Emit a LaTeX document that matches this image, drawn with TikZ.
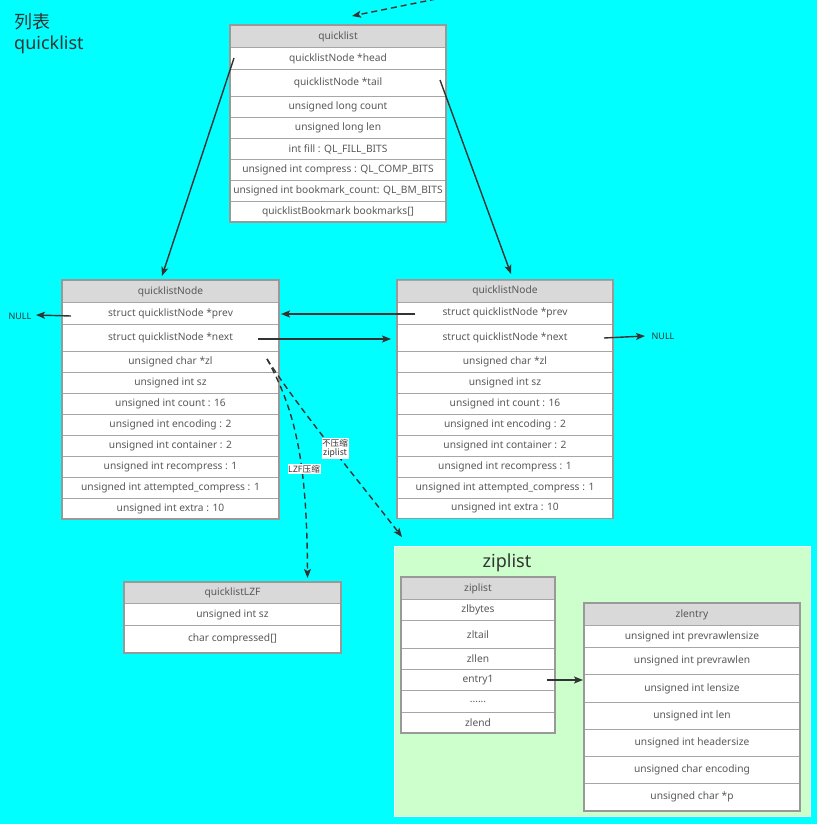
\documentclass[tikz,border=0pt]{standalone}
\usepackage{fontspec}
\setmainfont{Noto Sans}
\newfontfamily\cjk{Noto Sans CJK SC}
\usetikzlibrary{arrows.meta}
\definecolor{bgc}{HTML}{00FFFF}
\definecolor{hdrc}{HTML}{D9D9D9}
\definecolor{rowline}{HTML}{A6A6A6}
\definecolor{boxline}{HTML}{999999}
\definecolor{txtc}{HTML}{595959}
\definecolor{arrc}{HTML}{333333}
\definecolor{zipbg}{HTML}{CCFFCC}
\newcommand{\fld}[6]{\node[fld,minimum width=#4,minimum height=#5,anchor=north west] (#1) at (#2,#3) {#6};}
\newcommand{\hdr}[6]{\node[fld,fill=hdrc,minimum width=#4,minimum height=#5,anchor=north west] (#1) at (#2,#3) {#6};}
\tikzset{
  fld/.style={draw=rowline,line width=1pt,fill=white,inner sep=0pt,text=txtc,font=\fontsize{10.2}{12}\selectfont},
  outer/.style={draw=boxline,line width=1.6pt},
  arr/.style={draw=arrc,line width=1.4pt,-{Stealth[length=9pt,width=7pt,inset=2pt]}},
  darr/.style={draw=arrc,line width=1.4pt,dash pattern=on 6pt off 4pt,-{Stealth[length=9pt,width=7pt,inset=2pt]}},
  lbl/.style={fill=white,inner sep=0.6pt,text=arrc,font=\cjk\fontsize{8.6}{9.6}\selectfont,align=center},
  title/.style={text=arrc,font=\fontsize{18}{20}\selectfont,inner sep=0pt},
  nulltxt/.style={text=arrc,font=\fontsize{9}{10}\selectfont,inner sep=0pt}
}
\begin{document}
\begin{tikzpicture}[x=1pt,y=-1pt]
\path[fill=bgc] (0,0) rectangle (817,824);
\useasboundingbox (0,0) rectangle (817,824);

% title
\node[title,anchor=base west] (t1) at (14,29) {\cjk 列表};
\node[title,anchor=base west] (t2) at (14,50) {quicklist};

% quicklist
\hdr{q0}{230}{25}{215}{22}{quicklist}
\fld{q1}{230}{47}{215}{22}{quicklistNode *head}
\fld{q2}{230}{69}{215}{27}{quicklistNode *tail}
\fld{q3}{230}{96}{215}{21}{unsigned long count}
\fld{q4}{230}{117}{215}{21}{unsigned long len}
\fld{q5}{230}{138}{215}{21}{int fill : QL\_FILL\_BITS}
\fld{q6}{230}{159}{215}{21}{unsigned int compress : QL\_COMP\_BITS}
\fld{q7}{230}{180}{215}{21}{unsigned int bookmark\_count: QL\_BM\_BITS}
\fld{q8}{230}{201}{215}{20}{quicklistBookmark bookmarks[]}
\draw[outer] (q0.north west) rectangle (q8.south east);

% left quicklistNode
\hdr{a0}{62}{280}{216}{22}{quicklistNode}
\fld{a1}{62}{302}{216}{22}{struct quicklistNode *prev}
\fld{a2}{62}{324}{216}{27}{struct quicklistNode *next}
\fld{a3}{62}{351}{216}{21}{unsigned char *zl}
\fld{a4}{62}{372}{216}{21}{unsigned int sz}
\fld{a5}{62}{393}{216}{21}{unsigned int count : 16}
\fld{a6}{62}{414}{216}{21}{unsigned int encoding : 2}
\fld{a7}{62}{435}{216}{21}{unsigned int container : 2}
\fld{a8}{62}{456}{216}{21}{unsigned int recompress : 1}
\fld{a9}{62}{477}{216}{21}{unsigned int attempted\_compress : 1}
\fld{a10}{62}{498}{216}{20}{unsigned int extra : 10}
\draw[outer] (a0.north west) rectangle (a10.south east);

% right quicklistNode
\hdr{b0}{397}{279.5}{215}{22}{quicklistNode}
\fld{b1}{397}{301.5}{215}{22}{struct quicklistNode *prev}
\fld{b2}{397}{323.5}{215}{27}{struct quicklistNode *next}
\fld{b3}{397}{350.5}{215}{21}{unsigned char *zl}
\fld{b4}{397}{371.5}{215}{21}{unsigned int sz}
\fld{b5}{397}{392.5}{215}{21}{unsigned int count : 16}
\fld{b6}{397}{413.5}{215}{21}{unsigned int encoding : 2}
\fld{b7}{397}{434.5}{215}{21}{unsigned int container : 2}
\fld{b8}{397}{455.5}{215}{21}{unsigned int recompress : 1}
\fld{b9}{397}{476.5}{215}{21}{unsigned int attempted\_compress : 1}
\fld{b10}{397}{497.5}{215}{20}{unsigned int extra : 10}
\draw[outer] (b0.north west) rectangle (b10.south east);

% quicklistLZF
\hdr{l0}{124}{582}{216}{21}{quicklistLZF}
\fld{l1}{124}{603}{216}{22}{unsigned int sz}
\fld{l2}{124}{625}{216}{27}{char compressed[]}
\draw[outer] (l0.north west) rectangle (l2.south east);

% ziplist region
\draw[fill=zipbg,draw=white,line width=1pt] (394,546) rectangle (810.5,816.5);
\node[title] (zt) at (507,563) {ziplist};

\hdr{z0}{401}{577}{153}{22}{ziplist}
\fld{z1}{401}{599}{153}{21}{zlbytes}
\fld{z2}{401}{620}{153}{28}{zltail}
\fld{z3}{401}{648}{153}{21}{zllen}
\fld{z4}{401}{669}{153}{21}{entry1}
\fld{z5}{401}{690}{153}{22}{......}
\fld{z6}{401}{712}{153}{20}{zlend}
\draw[outer] (z0.north west) rectangle (z6.south east);

\hdr{e0}{584}{603}{215}{22}{zlentry}
\fld{e1}{584}{625}{215}{22}{unsigned int prevrawlensize}
\fld{e2}{584}{647}{215}{27}{unsigned int prevrawlen}
\fld{e3}{584}{674}{215}{28}{unsigned int lensize}
\fld{e4}{584}{702}{215}{27}{unsigned int len}
\fld{e5}{584}{729}{215}{27}{unsigned int headersize}
\fld{e6}{584}{756}{215}{27}{unsigned char encoding}
\fld{e7}{584}{783}{215}{27}{unsigned char *p}
\draw[outer] (e0.north west) rectangle (e7.south east);

% NULL labels
\node[nulltxt] (nl) at (20,316) {NULL};
\node[nulltxt] (nr) at (663,336.5) {NULL};

% coordinates
\coordinate (topin) at (436,-1);
\coordinate (toptip) at (352,16);
\coordinate (hs) at (234,58);
\coordinate (he) at (162,276);
\coordinate (ts) at (440,80);
\coordinate (te) at (511,274);
\coordinate (lps) at (71,316);
\coordinate (lpe) at (36,315);
\coordinate (rps) at (415,314);
\coordinate (rpe) at (281,314);
\coordinate (ns) at (258,339);
\coordinate (ne) at (391,339);
\coordinate (rns) at (604,338);
\coordinate (rne) at (645,336);
\coordinate (zls) at (267,359);
\coordinate (lzfe) at (307.5,578);
\coordinate (zipe) at (402,537);
\coordinate (es) at (547,680);
\coordinate (ee) at (583,680);

% connectors
\draw[darr] (topin) -- (toptip);
\draw[arr] (hs) -- (he);
\draw[arr] (ts) -- (te);
\draw[arr] (lps) -- (lpe);
\draw[arr] (rps) -- (rpe);
\draw[arr] (ns) -- (ne);
\draw[arr] (rns) -- (rne);
\draw[darr] (zls) .. controls (295,410) and (307,460) .. (lzfe);
\draw[darr] (zls) .. controls (300,410) and (350,470) .. (zipe);
\draw[arr] (es) -- (ee);

\node[lbl] (lab1) at (335,448.5) {不压缩\\ziplist};
\node[lbl] (lab2) at (304,469) {LZF压缩};
\end{tikzpicture}
\end{document}
